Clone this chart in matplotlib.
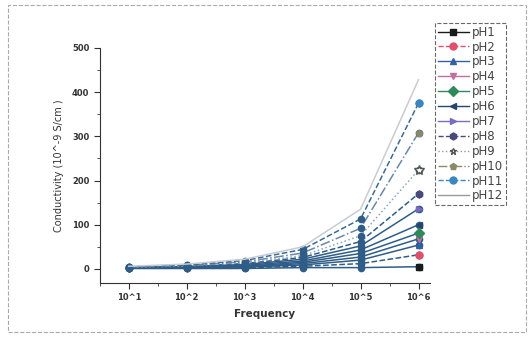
import matplotlib.pyplot as plt
from matplotlib.lines import Line2D
from matplotlib.ticker import MultipleLocator

# conductivity (10^-9 S/cm) per pH at each frequency
freq_labels = ["10^1", "10^2", "10^3", "10^4", "10^5", "10^6"]
series_names = ["pH1", "pH2", "pH3", "pH4", "pH5", "pH6",
                "pH7", "pH8", "pH9", "pH10", "pH11", "pH12"]
ph1 = [1, 1, 1, 3, 3, 5]
ph2 = [1.5, 2, 3, 6, 12, 32]
ph3 = [2, 2.5, 4, 9, 20, 54]
ph4 = [2, 3, 5, 12, 27, 68]
ph5 = [2.5, 4, 6, 15, 35, 81]
ph6 = [3, 5, 8, 18, 43, 100]
ph7 = [3, 5.5, 10, 22, 52, 136]
ph8 = [3.5, 6, 12, 26, 62, 170]
ph9 = [4, 7, 14, 30, 75, 224]
ph10 = [4.5, 8, 16, 36, 92, 308]
ph11 = [5, 9, 19, 44, 113, 375]
ph12 = [6, 11, 22, 50, 135, 428]
values = [ph1, ph2, ph3, ph4, ph5, ph6, ph7, ph8, ph9, ph10, ph11, ph12]

marker_colors = ["#1a1a1a", "#e0506a", "#3060a8", "#c070a0", "#2e8a5a", "#24466e",
                 "#7a6ac0", "#4a4a7a", "#ffffff", "#8a8a6a", "#3a86c0", "#c0c8d0"]
markers = ["s", "o", "^", "v", "D", "<", ">", "h", "*", "p", "o", ""]
line_colors = ["#2f5d88"] * 8 + ["#8da5bd", "#6a88a8", "#3d6a95", "#c8ccd2"]
styles = ["-", "--", "-", "-", "-", "-", "-", "--", ":", "-.", "--", "-"]

fig = plt.figure(figsize=(5.31, 3.37), dpi=100)
ax = fig.add_axes([0.188, 0.160, 0.622, 0.698])
x = list(range(1, len(freq_labels) + 1))

for i, (name, v) in enumerate(zip(series_names, values)):
    ax.plot(x, v, color=line_colors[i], ls=styles[i], lw=1.1,
            marker="o" if i < 11 else "", ms=4.5, mfc="#2f5d88", mec="#2f5d88", zorder=2)
    if markers[i]:
        ax.plot(x[-1], v[-1], marker=markers[i], ms=5 if markers[i] != "*" else 7,
                color=marker_colors[i], mec="#555555" if markers[i] == "*" else marker_colors[i],
                ls="none", zorder=3)

ax.set_xlim(0.5, 6.2)
ax.set_ylim(-32, 500)
ax.set_xticks(x)
ax.set_xticklabels(freq_labels)
ax.xaxis.set_minor_locator(MultipleLocator(0.5))
ax.yaxis.set_major_locator(MultipleLocator(100))
ax.yaxis.set_minor_locator(MultipleLocator(50))
for s in ["top", "right"]:
    ax.spines[s].set_visible(False)
for s in ["left", "bottom"]:
    ax.spines[s].set_color("#333333")
ax.tick_params(which="major", length=4, labelsize=6, colors="#333333")
ax.tick_params(which="minor", length=2, colors="#333333")
for lab in ax.get_xticklabels() + ax.get_yticklabels():
    lab.set_fontweight("bold")
ax.set_xlabel("Frequency", fontsize=7.5, fontweight="bold", color="#333333", labelpad=5)
ax.set_ylabel("Conductivity (10^-9 S/cm )", fontsize=7, color="#333333", labelpad=6)

handles = []
for i, name in enumerate(series_names):
    handles.append(Line2D([], [], color=marker_colors[i] if i not in (8, 11) else "#999999",
                          ls=styles[i], lw=1, marker=markers[i] or None, ms=5,
                          mfc=marker_colors[i], mec="#555555" if i == 8 else marker_colors[i]))
leg = fig.legend(handles=handles, labels=series_names, loc="upper left",
                 bbox_to_anchor=(0.808, 0.95), fontsize=8.5, frameon=True,
                 fancybox=False, handlelength=2.6, labelspacing=0.16,
                 borderpad=0.25, handletextpad=0.3)
leg.get_frame().set_edgecolor("#444444")
leg.get_frame().set_linestyle("--")
leg.get_frame().set_linewidth(0.8)
for t in leg.get_texts():
    t.set_color("#444444")

# dashed border around the scanned page
fig.patches.append(plt.Rectangle((0.015, 0.015), 0.975, 0.97, transform=fig.transFigure,
                                 fill=False, ec="#aaaaaa", ls="--", lw=0.8))

fig.savefig("out.png", dpi=100)
